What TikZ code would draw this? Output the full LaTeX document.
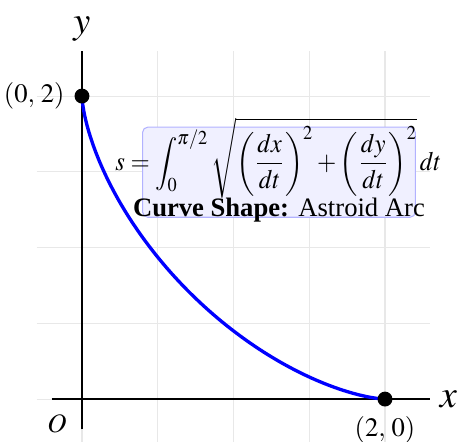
\documentclass[tikz,border=0pt]{standalone}
\usepackage{mathptmx}
\usepackage{fontspec}
\setmainfont{Liberation Serif}
\tikzset{
  gridline/.style={gray!18, line width=0.4pt},
  axis/.style={black, line width=0.8pt},
  curveline/.style={blue, line width=1.25pt},
  dot/.style={circle, fill=black, inner sep=0pt, minimum size=5.6pt},
  panel/.style={draw=blue!30, fill=blue!6, rounded corners=2pt, line width=0.4pt,
    minimum width=3.6cm, minimum height=1.19cm, inner sep=0pt},
}
\begin{document}
\begin{tikzpicture}[x=2cm,y=2cm]
\useasboundingbox (-0.541,-0.277) rectangle (2.495,2.634);
\draw[gridline, step=0.5] (-0.3,-0.3) grid (2.3,2.3);
\coordinate (xs) at (-0.2,0);
\coordinate (xe) at (2.3,0);
\coordinate (ys) at (0,-0.2);
\coordinate (ye) at (0,2.3);
\draw[axis] (xs) -- (xe);
\draw[axis] (ys) -- (ye);
\node[right] (xl) at (xe) {\Large$x$};
\node[above] (yl) at (ye) {\Large$y$};
\node (O) at (-0.165,-0.165) {$O$};
\draw[curveline, domain=0:90, samples=120] plot ({2*pow(cos(\x),3)},{2*pow(sin(\x),3)});
\node[dot, label=left:{$(0,\,2)$}] (A) at (0,2) {};
\node[dot, label=below:{$(2,\,0)$}] (B) at (2,0) {};
\node[panel] (box) at (1.30,1.4975) {};
\node (formula) at (1.297,1.59) {\scalebox{0.93}[1]{$\displaystyle s=\int_0^{\pi/2}\sqrt{\left(\frac{dx}{dt}\right)^2+\left(\frac{dy}{dt}\right)^2}\,dt$}};
\node (shape) at (1.30,1.25) {\textbf{Curve Shape:}\hspace{3.5pt}Astroid Arc};
\end{tikzpicture}
\end{document}
